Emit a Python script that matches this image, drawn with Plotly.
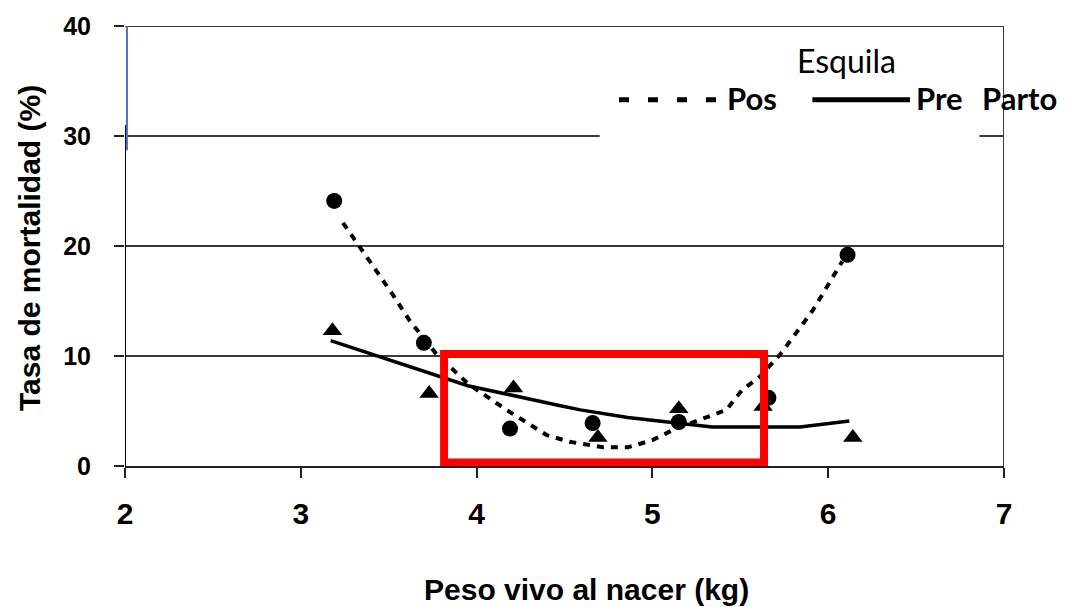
import plotly.graph_objects as go

# Observed mortality by birth weight
pos_x = [3.19, 3.70, 4.19, 4.66, 5.15, 5.66, 6.11]
pos_y = [24.1, 11.2, 3.4, 3.9, 4.0, 6.2, 19.2]
pre_x = [3.18, 3.73, 4.21, 4.69, 5.15, 5.63, 6.14]
pre_y = [12.3, 6.6, 7.1, 2.6, 5.2, 5.4, 2.6]

# Fitted trend curves
pos_trend_x = [3.24, 3.51, 3.62, 3.77, 3.95, 4.17, 4.40, 4.53, 4.72, 4.86, 5.00, 5.12, 5.27, 5.42, 5.51, 5.61, 5.73, 5.91, 6.08]
pos_trend_y = [22.1, 15.9, 13.2, 10.2, 7.5, 5.1, 2.8, 2.2, 1.7, 1.7, 2.35, 3.3, 4.2, 5.1, 6.9, 8.1, 10.2, 14.1, 18.6]
pre_trend_x = [3.17, 3.45, 3.79, 3.95, 4.47, 4.59, 4.86, 5.10, 5.34, 5.84, 6.00, 6.12]
pre_trend_y = [11.4, 9.9, 8.1, 7.3, 5.5, 5.1, 4.4, 4.0, 3.55, 3.55, 3.9, 4.1]

x_ticks = [2, 3, 4, 5, 6, 7]
y_ticks = [0, 10, 20, 30, 40]

BOLD = "Liberation Sans"
LEG = "Lato"

fig = go.Figure()
fig.add_trace(go.Scatter(x=pos_trend_x, y=pos_trend_y, mode="lines",
                         line=dict(color="black", width=4, dash="7px,7px"),
                         showlegend=False, hoverinfo="skip"))
fig.add_trace(go.Scatter(x=pre_trend_x, y=pre_trend_y, mode="lines",
                         line=dict(color="black", width=3.5),
                         showlegend=False, hoverinfo="skip"))
fig.add_trace(go.Scatter(x=pos_x, y=pos_y, mode="markers", name="Pos",
                         marker=dict(symbol="circle", size=16, color="black"),
                         showlegend=False))
fig.add_trace(go.Scatter(x=pre_x, y=pre_y, mode="markers", name="Pre",
                         marker=dict(symbol="triangle-up", size=17, color="black"),
                         showlegend=False))

shapes = [
    # blank panel behind the key
    dict(type="rect", xref="x", yref="y", x0=4.70, x1=6.86, y0=28.5, y1=39.6,
         fillcolor="white", line=dict(width=0), layer="above"),
    # top border and right border
    dict(type="line", xref="x", yref="y", x0=2, x1=7, y0=40, y1=40,
         line=dict(color="#3a3a3a", width=2)),
    dict(type="line", xref="x", yref="y", x0=7, x1=7, y0=0, y1=40,
         line=dict(color="#3a3a3a", width=2)),
    # left axis line
    dict(type="line", xref="x", yref="y", x0=2, x1=2, y0=0, y1=31.0,
         line=dict(color="black", width=2)),
    dict(type="line", xref="x", yref="y", x0=2.011, x1=2.011, y0=28.7, y1=40,
         line=dict(color="#4472C4", width=2)),
    # highlighted range
    dict(type="rect", xref="x", yref="y", x0=3.815, x1=5.635, y0=0.32, y1=10.18,
         line=dict(color="#ff0000", width=8), fillcolor="rgba(0,0,0,0)"),
    # key samples
    dict(type="line", xref="x", yref="y", x0=4.81, x1=5.37, y0=33.3, y1=33.3,
         line=dict(color="black", width=5, dash="10px,19px")),
    dict(type="line", xref="x", yref="y", x0=5.91, x1=6.465, y0=33.3, y1=33.3,
         line=dict(color="black", width=5)),
]

annotations = [
    dict(text="Esquila", x=5.81, y=36.9, xref="x", yref="y", xanchor="left",
         yanchor="middle", showarrow=False, font=dict(family=LEG, size=32, color="black")),
    dict(text="<b>Pos</b>", x=5.415, y=33.5, xref="x", yref="y", xanchor="left",
         yanchor="middle", showarrow=False, font=dict(family=LEG, size=31, color="black")),
    dict(text="<b>Pre</b>", x=6.49, y=33.5, xref="x", yref="y", xanchor="left",
         yanchor="middle", showarrow=False, font=dict(family=LEG, size=31, color="black")),
    dict(text="<b>Parto</b>", x=6.865, y=33.5, xref="x", yref="y", xanchor="left",
         yanchor="middle", showarrow=False, font=dict(family=LEG, size=31, color="black")),
    dict(text="<b>Peso vivo al nacer (kg)</b>", x=(586 - 125) / 879, y=-124 / 442,
         xref="paper", yref="paper", xanchor="center", yanchor="middle",
         showarrow=False, font=dict(family=BOLD, size=30, color="black")),
    dict(text="<b>Tasa de mortalidad (%)</b>", x=(30 - 125) / 879, y=(466 - 247) / 442,
         xref="paper", yref="paper", xanchor="center", yanchor="middle", textangle=-90,
         showarrow=False, font=dict(family=BOLD, size=30, color="black")),
]

fig.update_layout(
    width=1066, height=607,
    margin=dict(l=125, r=62, t=24, b=141),
    paper_bgcolor="white", plot_bgcolor="white",
    shapes=shapes, annotations=annotations,
    xaxis=dict(range=[2, 7], tickvals=x_ticks, showgrid=False, zeroline=False,
               showline=True, linecolor="#222", linewidth=2,
               ticks="outside", ticklen=10, tickwidth=2, tickcolor="#222",
               ticklabelstandoff=10,
               tickfont=dict(family=BOLD, size=30, color="black", weight="bold")),
    yaxis=dict(range=[0, 40], tickvals=y_ticks, showgrid=True, gridcolor="#3a3a3a",
               gridwidth=1.5, zeroline=False, showline=False,
               ticks="outside", ticklen=10, tickwidth=2, tickcolor="#222",
               ticklabelstandoff=18,
               tickfont=dict(family=BOLD, size=25, color="black", weight="bold")),
    showlegend=False,
)

fig.write_html("out.html")
